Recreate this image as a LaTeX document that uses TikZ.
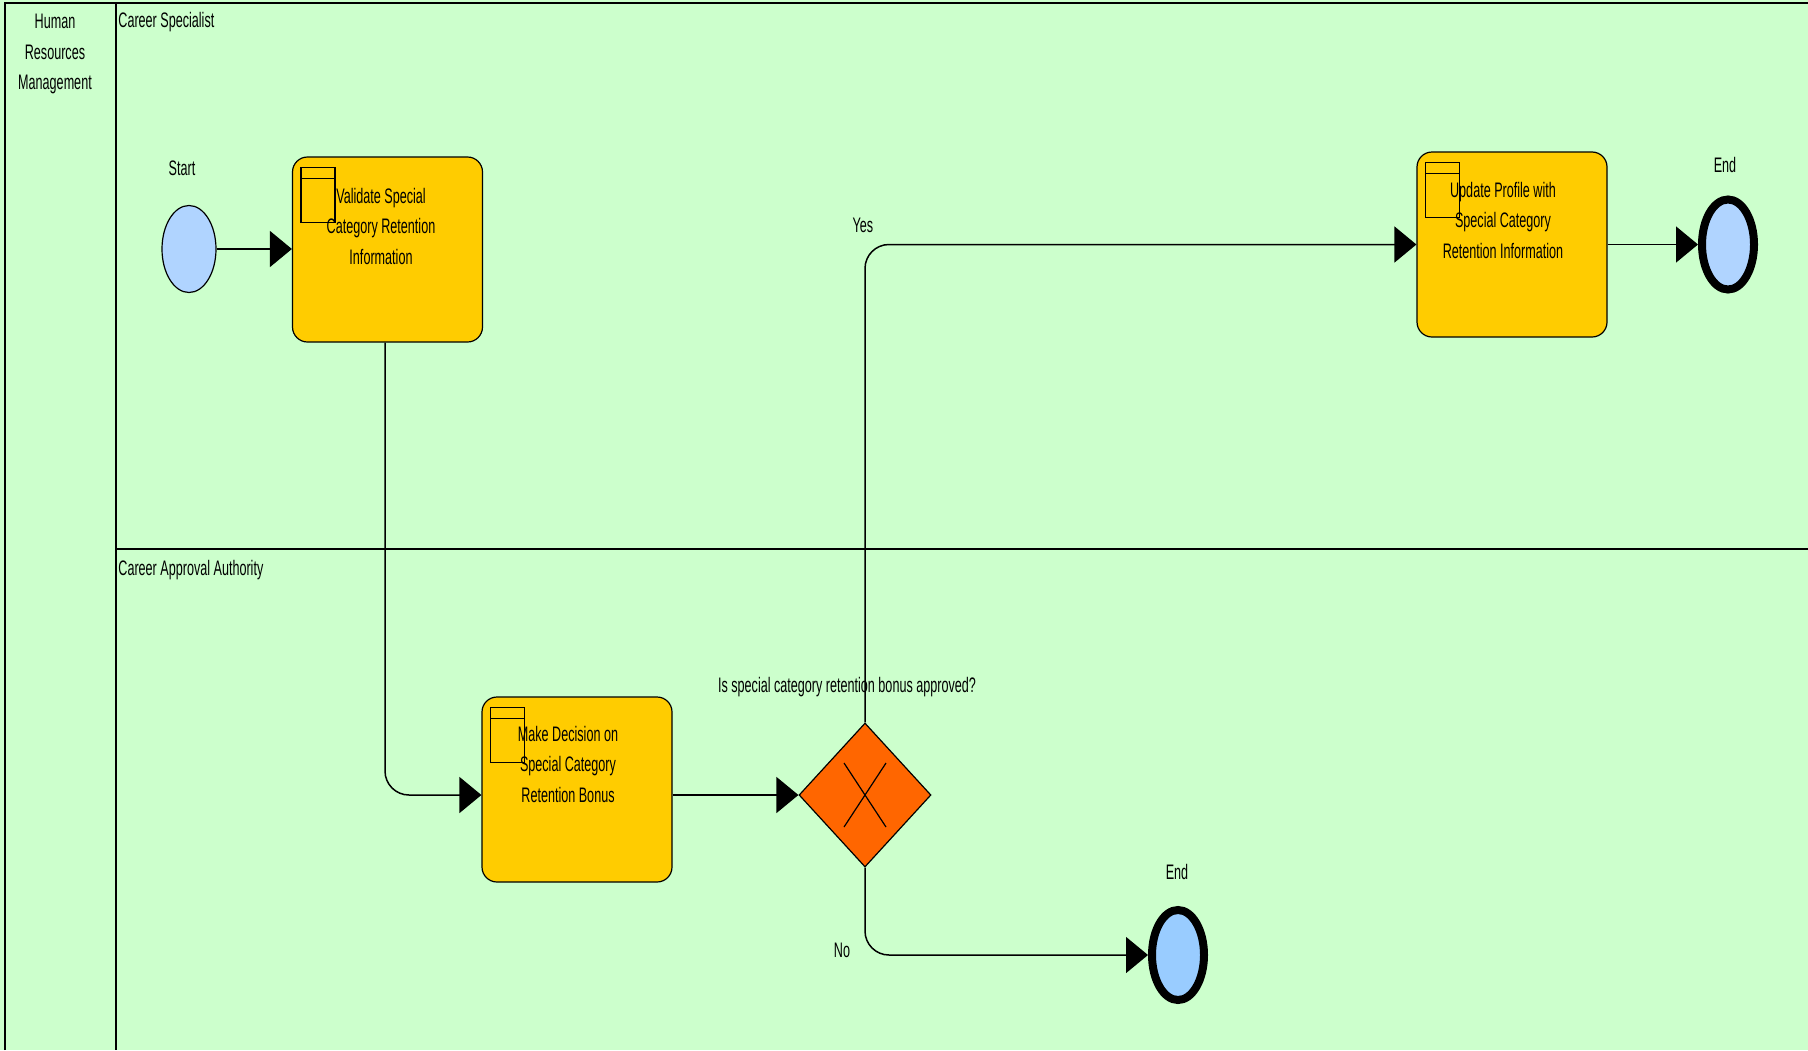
\documentclass[tikz,border=0pt]{standalone}
\usepackage{fontspec}
\setmainfont{Liberation Sans}[FakeStretch=0.6]
\usetikzlibrary{shapes.geometric,arrows.meta}
\definecolor{lanegreen}{RGB}{204,255,204}
\definecolor{taskyellow}{RGB}{255,204,0}
\definecolor{gateorange}{RGB}{255,102,0}
\definecolor{startblue}{RGB}{176,212,255}
\definecolor{endblue}{RGB}{153,204,255}
\newcommand{\subicon}[1]{%
  \draw[line width=0.6pt] ([shift={(4.5pt,-5.5pt)}]#1.north west) rectangle ++(17pt,-27.5pt);
  \draw[line width=0.6pt] ([shift={(4.5pt,-11pt)}]#1.north west) -- ++(17pt,0pt);}
\begin{document}
\begin{tikzpicture}[x=0.5pt,y=-0.5pt,
  every node/.style={font=\fontsize{10.5}{15.25}\selectfont},
  task/.style={draw,fill=taskyellow,rounded corners=7.5pt,minimum width=95pt,minimum height=92.5pt,inner sep=0pt,line width=0.6pt},
  tasktext/.style={align=center,inner sep=0pt},
  startev/.style={ellipse,draw,fill=startblue,minimum width=27pt,minimum height=43.5pt,inner sep=0pt,line width=0.6pt},
  endev/.style={ellipse,draw,line width=4pt,minimum width=26pt,minimum height=45pt,inner sep=0pt},
  gateway/.style={diamond,draw,fill=gateorange,minimum width=66pt,minimum height=72pt,inner sep=0pt,line width=0.6pt},
  flow/.style={line width=0.75pt,-{Triangle[length=11pt,width=18pt]}},
  plain/.style={inner sep=0pt}]
\useasboundingbox (0,0) rectangle (1808,1050);
\fill[lanegreen] (0,0) rectangle (1808,1050);

\draw[line width=1pt] (5,1050) -- (5,3) -- (1808,3);
\draw[line width=0.8pt] (116,3) -- (116,1050);
\draw[line width=0.6pt] (116,549) -- (1808,549);

\node[tasktext] (pool) at (55,54) {Human\\Resources\\Management};
\node[plain,anchor=west] (lane1) at (118,22) {Career Specialist};
\node[plain,anchor=west] (lane2) at (118,570) {Career Approval Authority};

\node[startev] (start) at (189,249) {};
\node[plain] (startlbl) at (182,168) {Start};

\node[task] (t1) at (387.5,249.5) {};
\node[tasktext] (t1txt) at (381,226) {Validate Special\\Category Retention\\Information};
\subicon{t1}

\node[task] (t2) at (1512,244.5) {};
\node[tasktext] (t2txt) at (1503,220) {Update Profile with\\Special Category\\Retention Information};
\subicon{t2}

\node[endev,fill=startblue] (e1) at (1728,244.5) {};
\node[plain] (e1lbl) at (1725,165) {End};

\node[task] (t3) at (577,789.5) {};
\node[tasktext] (t3txt) at (568,764) {Make Decision on\\Special Category\\Retention Bonus};
\subicon{t3}

\node[gateway] (gw) at (865,795) {};
\draw[line width=0.6pt] ([shift={(-10.5pt,16pt)}]gw.center) -- ++(21pt,-32pt);
\draw[line width=0.6pt] ([shift={(-10.5pt,-16pt)}]gw.center) -- ++(21pt,32pt);
\node[plain] (gwq) at (847,687) {Is special category retention bonus approved?};

\node[endev,fill=endblue] (e2) at (1178,955) {};
\node[plain] (e2lbl) at (1177,872) {End};

\draw[flow] (start.east) -- (start.east -| t1.west);
\draw[flow,rounded corners=12pt] ([xshift=-1.25pt]t1.south) |- (t3.west |- gw.west);
\draw[flow] (t3.east |- gw.west) -- (gw.west);
\draw[flow,rounded corners=12pt] (gw.north) |- (t2.west);
\draw[flow] (t2.east) -- (e1.west);
\draw[flow,rounded corners=12pt] (gw.south) |- (e2.west);

\node[plain] (yes) at (863,225) {Yes};
\node[plain] (no) at (842,950) {No};
\end{tikzpicture}
\end{document}
